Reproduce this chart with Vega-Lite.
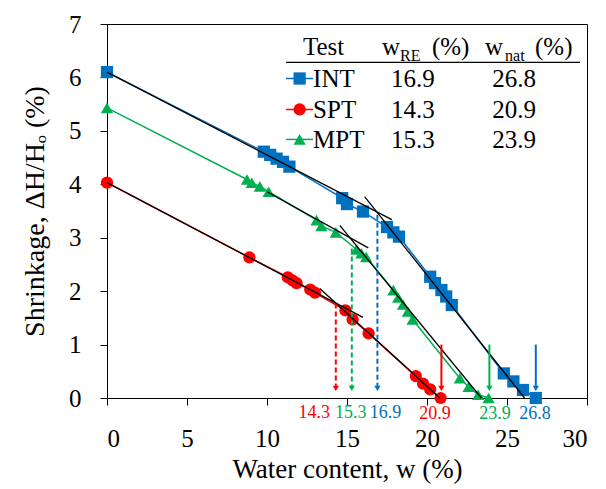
{
  "$schema": "https://vega.github.io/schema/vega-lite/v6.json",
  "width": 480,
  "height": 374,
  "autosize": {"type": "none"},
  "padding": {"left": 107, "top": 24, "right": 19, "bottom": 91},
  "background": "white",
  "config": {
    "view": {"stroke": "black", "strokeWidth": 1},
    "font": "Liberation Serif",
    "axis": {
      "labelFont": "Liberation Serif", "labelFontSize": 25, "labelColor": "black",
      "titleFont": "Liberation Serif", "titleFontSize": 27, "titleColor": "black", "titleFontWeight": "normal",
      "domainColor": "black", "tickColor": "black", "tickSize": 7, "grid": false
    }
  },
  "datasets": {
    "pts": [
      {"series": "INT", "w": 0, "s": 6.1}, {"series": "INT", "w": 9.8, "s": 4.61}, {"series": "INT", "w": 10.2, "s": 4.55},
      {"series": "INT", "w": 10.6, "s": 4.48}, {"series": "INT", "w": 11.0, "s": 4.42}, {"series": "INT", "w": 11.4, "s": 4.33},
      {"series": "INT", "w": 14.7, "s": 3.74}, {"series": "INT", "w": 15.0, "s": 3.63}, {"series": "INT", "w": 16.0, "s": 3.49},
      {"series": "INT", "w": 17.5, "s": 3.2}, {"series": "INT", "w": 17.9, "s": 3.1}, {"series": "INT", "w": 18.25, "s": 3.02},
      {"series": "INT", "w": 20.2, "s": 2.27}, {"series": "INT", "w": 20.5, "s": 2.15}, {"series": "INT", "w": 20.9, "s": 2.02},
      {"series": "INT", "w": 21.2, "s": 1.9}, {"series": "INT", "w": 21.55, "s": 1.74}, {"series": "INT", "w": 24.8, "s": 0.46},
      {"series": "INT", "w": 25.4, "s": 0.31}, {"series": "INT", "w": 26.0, "s": 0.15}, {"series": "INT", "w": 26.8, "s": 0.0},
      {"series": "SPT", "w": 0, "s": 4.03}, {"series": "SPT", "w": 8.9, "s": 2.63}, {"series": "SPT", "w": 11.3, "s": 2.26},
      {"series": "SPT", "w": 11.6, "s": 2.2}, {"series": "SPT", "w": 11.85, "s": 2.15}, {"series": "SPT", "w": 12.7, "s": 2.03},
      {"series": "SPT", "w": 13.0, "s": 1.97}, {"series": "SPT", "w": 14.9, "s": 1.64}, {"series": "SPT", "w": 15.35, "s": 1.47},
      {"series": "SPT", "w": 16.35, "s": 1.21}, {"series": "SPT", "w": 19.3, "s": 0.41}, {"series": "SPT", "w": 19.75, "s": 0.27},
      {"series": "SPT", "w": 20.2, "s": 0.16}, {"series": "SPT", "w": 20.85, "s": 0.0},
      {"series": "MPT", "w": 0, "s": 5.43}, {"series": "MPT", "w": 8.75, "s": 4.09}, {"series": "MPT", "w": 9.05, "s": 4.03},
      {"series": "MPT", "w": 9.55, "s": 3.96}, {"series": "MPT", "w": 10.1, "s": 3.86}, {"series": "MPT", "w": 13.1, "s": 3.33},
      {"series": "MPT", "w": 13.4, "s": 3.22}, {"series": "MPT", "w": 14.3, "s": 3.1}, {"series": "MPT", "w": 15.6, "s": 2.78},
      {"series": "MPT", "w": 15.9, "s": 2.71}, {"series": "MPT", "w": 16.2, "s": 2.64}, {"series": "MPT", "w": 17.9, "s": 2.02},
      {"series": "MPT", "w": 18.2, "s": 1.88}, {"series": "MPT", "w": 18.5, "s": 1.75}, {"series": "MPT", "w": 18.8, "s": 1.62},
      {"series": "MPT", "w": 19.1, "s": 1.47}, {"series": "MPT", "w": 22.05, "s": 0.37}, {"series": "MPT", "w": 22.6, "s": 0.21},
      {"series": "MPT", "w": 23.2, "s": 0.06}, {"series": "MPT", "w": 23.85, "s": 0.0}
    ],
    "trend": [
      {"seg": "INT1", "w": 0, "s": 6.1}, {"seg": "INT1", "w": 17.8, "s": 3.34},
      {"seg": "INT2", "w": 16.1, "s": 3.77}, {"seg": "INT2", "w": 26.1, "s": 0},
      {"seg": "MPT1", "w": 10.0, "s": 3.86}, {"seg": "MPT1", "w": 16.33, "s": 2.81},
      {"seg": "MPT2", "w": 14.55, "s": 3.23}, {"seg": "MPT2", "w": 23.4, "s": 0},
      {"seg": "SPT1", "w": 0, "s": 4.03}, {"seg": "SPT1", "w": 16.0, "s": 1.51},
      {"seg": "SPT2", "w": 13.3, "s": 2.05}, {"seg": "SPT2", "w": 20.8, "s": 0}
    ],
    "wre": [
      {"series": "INT", "w": 16.9, "top": 3.43, "label": "16.9", "lx": 17.4},
      {"series": "SPT", "w": 14.3, "top": 1.77, "label": "14.3", "lx": 12.95},
      {"series": "MPT", "w": 15.3, "top": 2.8, "label": "15.3", "lx": 15.24}
    ],
    "wnat": [
      {"series": "INT", "w": 26.8, "top": 1.0, "label": "26.8", "lx": 26.75},
      {"series": "SPT", "w": 20.9, "top": 1.0, "label": "20.9", "lx": 20.5},
      {"series": "MPT", "w": 23.9, "top": 1.0, "label": "23.9", "lx": 24.25}
    ],
    "legend": [
      {"series": "INT", "wre": "16.9", "wnat": "26.8", "my": 5.98, "ly": 5.83},
      {"series": "SPT", "wre": "14.3", "wnat": "20.9", "my": 5.4, "ly": 5.25},
      {"series": "MPT", "wre": "15.3", "wnat": "23.9", "my": 4.84, "ly": 4.67}
    ],
    "head": [
      {"t": "Test", "x": 12.25}, {"t": "w", "x": 17.19}, {"t": "(%)", "x": 20.31},
      {"t": "w", "x": 23.63}, {"t": "(%)", "x": 26.75}
    ],
    "sub": [
      {"t": "RE", "x": 18.31}, {"t": "nat", "x": 24.88}
    ]
  },
  "layer": [
    {
      "data": {"name": "pts"},
      "mark": {"type": "line", "strokeWidth": 1.5},
      "encoding": {
        "x": {"field": "w", "type": "quantitative", "scale": {"domain": [0, 30], "nice": false}, "title": "Water content, w (%)",
              "axis": {"values": [0, 5, 10, 15, 20, 25, 30], "format": "d", "labelPadding": 21, "titlePadding": 5}},
        "y": {"field": "s", "type": "quantitative", "scale": {"domain": [0, 7], "nice": false, "zero": false}, "title": "Shrinkage, ΔH/Hₒ (%)",
              "axis": {"values": [0, 1, 2, 3, 4, 5, 6, 7], "format": "d", "labelPadding": 19, "titlePadding": 19, "titleFontSize": 28}},
        "color": {"field": "series", "type": "nominal", "scale": {"domain": ["INT", "SPT", "MPT"], "range": ["#0070C0", "#FF0000", "#00B050"]}, "legend": null},
        "order": {"field": "w", "type": "quantitative"}
      }
    },
    {
      "data": {"name": "pts"},
      "mark": {"type": "point", "filled": true, "opacity": 1, "size": 150},
      "encoding": {
        "x": {"field": "w", "type": "quantitative", "title": "Water content, w (%)"},
        "y": {"field": "s", "type": "quantitative", "title": "Shrinkage, ΔH/Hₒ (%)"},
        "color": {"field": "series", "type": "nominal", "legend": null},
        "shape": {"field": "series", "type": "nominal", "scale": {"domain": ["INT", "SPT", "MPT"], "range": ["square", "circle", "triangle-up"]}, "legend": null}
      }
    },
    {
      "data": {"name": "trend"},
      "mark": {"type": "line", "strokeWidth": 1.3, "color": "black"},
      "encoding": {
        "x": {"field": "w", "type": "quantitative", "title": "Water content, w (%)"},
        "y": {"field": "s", "type": "quantitative", "title": "Shrinkage, ΔH/Hₒ (%)"},
        "detail": {"field": "seg"}
      }
    },
    {
      "data": {"name": "wre"},
      "mark": {"type": "rule", "strokeWidth": 2, "strokeDash": [5, 3]},
      "encoding": {
        "x": {"field": "w", "type": "quantitative", "title": "Water content, w (%)"},
        "y": {"field": "top", "type": "quantitative", "title": "Shrinkage, ΔH/Hₒ (%)"},
        "y2": {"datum": 0.2},
        "color": {"field": "series", "type": "nominal", "legend": null}
      }
    },
    {
      "data": {"name": "wnat"},
      "mark": {"type": "rule", "strokeWidth": 2},
      "encoding": {
        "x": {"field": "w", "type": "quantitative", "title": "Water content, w (%)"},
        "y": {"field": "top", "type": "quantitative", "title": "Shrinkage, ΔH/Hₒ (%)"},
        "y2": {"datum": 0.2},
        "color": {"field": "series", "type": "nominal", "legend": null}
      }
    },
    {
      "data": {"name": "wre"},
      "mark": {"type": "point", "shape": "triangle-down", "filled": true, "opacity": 1, "size": 40},
      "encoding": {
        "x": {"field": "w", "type": "quantitative", "title": "Water content, w (%)"},
        "y": {"datum": 0.18, "title": "Shrinkage, ΔH/Hₒ (%)"},
        "color": {"field": "series", "type": "nominal", "legend": null}
      }
    },
    {
      "data": {"name": "wnat"},
      "mark": {"type": "point", "shape": "triangle-down", "filled": true, "opacity": 1, "size": 40},
      "encoding": {
        "x": {"field": "w", "type": "quantitative", "title": "Water content, w (%)"},
        "y": {"datum": 0.18, "title": "Shrinkage, ΔH/Hₒ (%)"},
        "color": {"field": "series", "type": "nominal", "legend": null}
      }
    },
    {
      "data": {"name": "wre"},
      "mark": {"type": "text", "fontSize": 18, "font": "Liberation Serif", "align": "center", "baseline": "alphabetic"},
      "encoding": {
        "x": {"field": "lx", "type": "quantitative", "title": "Water content, w (%)"},
        "y": {"datum": -0.37, "title": "Shrinkage, ΔH/Hₒ (%)"},
        "text": {"field": "label"},
        "color": {"field": "series", "type": "nominal", "legend": null}
      }
    },
    {
      "data": {"name": "wnat"},
      "mark": {"type": "text", "fontSize": 18, "font": "Liberation Serif", "align": "center", "baseline": "alphabetic"},
      "encoding": {
        "x": {"field": "lx", "type": "quantitative", "title": "Water content, w (%)"},
        "y": {"datum": -0.39, "title": "Shrinkage, ΔH/Hₒ (%)"},
        "text": {"field": "label"},
        "color": {"field": "series", "type": "nominal", "legend": null}
      }
    },
    {
      "data": {"values": [{}]},
      "mark": {"type": "rule", "color": "black", "strokeWidth": 1.3},
      "encoding": {
        "x": {"datum": 11.19, "title": "Water content, w (%)"}, "x2": {"datum": 29.56},
        "y": {"datum": 6.28, "title": "Shrinkage, ΔH/Hₒ (%)"}
      }
    },
    {
      "data": {"name": "head"},
      "mark": {"type": "text", "fontSize": 25, "font": "Liberation Serif", "align": "left", "baseline": "alphabetic", "color": "black"},
      "encoding": {
        "x": {"field": "x", "type": "quantitative", "title": "Water content, w (%)"},
        "y": {"datum": 6.42, "title": "Shrinkage, ΔH/Hₒ (%)"},
        "text": {"field": "t"}
      }
    },
    {
      "data": {"name": "sub"},
      "mark": {"type": "text", "fontSize": 16, "font": "Liberation Serif", "align": "left", "baseline": "alphabetic", "color": "black"},
      "encoding": {
        "x": {"field": "x", "type": "quantitative", "title": "Water content, w (%)"},
        "y": {"datum": 6.31, "title": "Shrinkage, ΔH/Hₒ (%)"},
        "text": {"field": "t"}
      }
    },
    {
      "data": {"name": "legend"},
      "mark": {"type": "rule", "strokeWidth": 1.5},
      "encoding": {
        "x": {"datum": 11.19, "title": "Water content, w (%)"}, "x2": {"datum": 12.88},
        "y": {"field": "my", "type": "quantitative", "title": "Shrinkage, ΔH/Hₒ (%)"},
        "color": {"field": "series", "type": "nominal", "legend": null}
      }
    },
    {
      "data": {"name": "legend"},
      "mark": {"type": "point", "filled": true, "opacity": 1, "size": 150},
      "encoding": {
        "x": {"datum": 12.04, "title": "Water content, w (%)"},
        "y": {"field": "my", "type": "quantitative", "title": "Shrinkage, ΔH/Hₒ (%)"},
        "color": {"field": "series", "type": "nominal", "legend": null},
        "shape": {"field": "series", "type": "nominal", "legend": null}
      }
    },
    {
      "data": {"name": "legend"},
      "mark": {"type": "text", "fontSize": 25, "font": "Liberation Serif", "align": "left", "baseline": "alphabetic", "color": "black"},
      "encoding": {
        "x": {"datum": 12.88, "title": "Water content, w (%)"},
        "y": {"field": "ly", "type": "quantitative", "title": "Shrinkage, ΔH/Hₒ (%)"},
        "text": {"field": "series"}
      }
    },
    {
      "data": {"name": "legend"},
      "mark": {"type": "text", "fontSize": 25, "font": "Liberation Serif", "align": "center", "baseline": "alphabetic", "color": "black"},
      "encoding": {
        "x": {"datum": 19.12, "title": "Water content, w (%)"},
        "y": {"field": "ly", "type": "quantitative", "title": "Shrinkage, ΔH/Hₒ (%)"},
        "text": {"field": "wre"}
      }
    },
    {
      "data": {"name": "legend"},
      "mark": {"type": "text", "fontSize": 25, "font": "Liberation Serif", "align": "center", "baseline": "alphabetic", "color": "black"},
      "encoding": {
        "x": {"datum": 25.44, "title": "Water content, w (%)"},
        "y": {"field": "ly", "type": "quantitative", "title": "Shrinkage, ΔH/Hₒ (%)"},
        "text": {"field": "wnat"}
      }
    }
  ]
}
